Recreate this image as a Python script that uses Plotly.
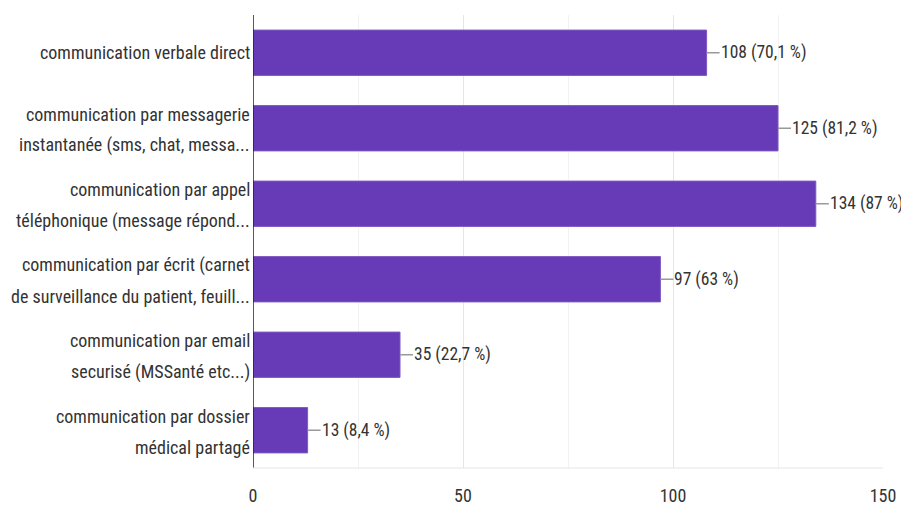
import plotly.graph_objects as go

categories = [
    "communication verbale direct",
    "communication par messagerie<br>instantanée (sms, chat, messa...",
    "communication par appel<br>téléphonique (message répond...",
    "communication par écrit (carnet<br>de surveillance du patient, feuill...",
    "communication par email<br>securisé (MSSanté etc...)",
    "communication par dossier<br>médical partagé",
]
values = [108, 125, 134, 97, 35, 13]
percents = ["70,1", "81,2", "87", "63", "22,7", "8,4"]
x_ticks = [0, 50, 100, 150]

FONT = "Liberation Sans Narrow, Arial Narrow, Roboto Condensed, Liberation Sans, Arial"
TXT = "#333333"
ids = list(range(len(categories)))

fig = go.Figure()
fig.add_trace(go.Bar(
    x=values, y=ids, orientation="h",
    marker=dict(color="#673ab7", line=dict(color="#7e57c2", width=1)),
    width=0.6, hoverinfo="skip",
))

annotations = []
for i, (v, p) in enumerate(zip(values, percents)):
    annotations.append(dict(
        x=v, y=i, xref="x", yref="y", text=f"{v} ({p} %)",
        showarrow=True, arrowhead=0, arrowwidth=1.5, arrowcolor="#999999",
        ax=13, ay=0, xanchor="left", yanchor="middle", standoff=0,
        borderpad=0,
        font=dict(family=FONT, size=17.5, color=TXT),
    ))
for i, c in enumerate(categories):
    lines = c.split("<br>")
    if len(lines) == 1:
        shifts = [0]
    else:
        shifts = [14, -17]
    for line, s in zip(lines, shifts):
        annotations.append(dict(
            x=0, y=i, xref="paper", yref="y", text=line, showarrow=False,
            xanchor="right", yanchor="middle", xshift=-1, yshift=s,
            font=dict(family=FONT, size=18, color=TXT),
        ))

fig.update_layout(
    width=901, height=505,
    margin=dict(l=245, r=26, t=7, b=35),
    paper_bgcolor="white", plot_bgcolor="white",
    showlegend=False,
    annotations=annotations,
    xaxis=dict(
        range=[0, 150], tickvals=x_ticks, ticktext=[str(t) for t in x_ticks],
        showgrid=True, gridcolor="#e6e6e6", gridwidth=1,
        minor=dict(dtick=25, showgrid=True, gridcolor="#f2f2f2"),
        zeroline=False, showline=False, ticks="",
        tickfont=dict(family=FONT, size=18, color=TXT), ticklabelstandoff=15,
        fixedrange=True,
    ),
    yaxis=dict(
        range=[5.5, -0.5], tickvals=ids, showticklabels=False,
        showgrid=False, zeroline=False, showline=False, fixedrange=True,
    ),
    shapes=[
        dict(type="line", xref="x", yref="paper", x0=0, x1=0, y0=0, y1=1,
             line=dict(color="#222222", width=1.5)),
        dict(type="line", xref="paper", yref="paper", x0=0, x1=1, y0=0, y1=0,
             line=dict(color="#e6e6e6", width=1)),
    ],
)

fig.write_html("out.html")
